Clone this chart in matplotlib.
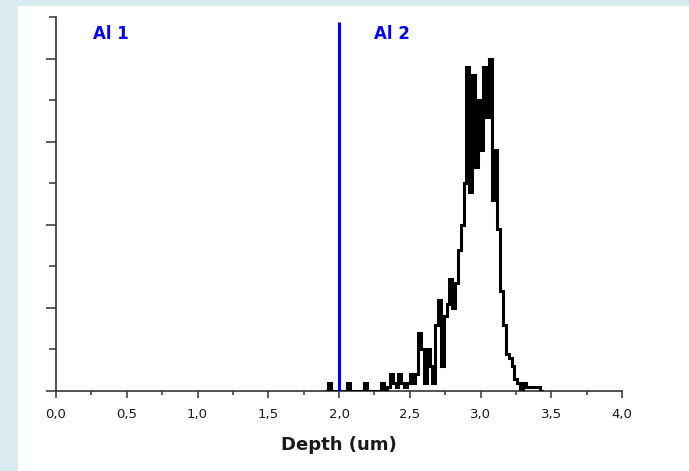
import numpy as np
import matplotlib
matplotlib.use("Agg")
import matplotlib.pyplot as plt
from matplotlib.patches import Rectangle
from matplotlib.ticker import MultipleLocator, FuncFormatter

# histogram of depth (bins of 0.02 um starting at 1.90 um)
bin_start = 1.90
bin_width = 0.02
counts = [0, 2, 0, 0, 0, 0, 0, 0, 2, 0,
          0, 0, 0, 0, 2, 0, 0, 0, 0, 0,
          2, 0, 1, 4, 2, 1, 4, 2, 1, 2,
          4, 2, 4, 14, 10, 2, 10, 6, 2, 16,
          22, 6, 18, 21, 27, 20, 26, 34, 40, 50,
          78, 48, 76, 54, 70, 58, 78, 66, 80, 46,
          58, 39, 24, 16, 9, 8, 6, 3, 2, 0,
          2, 1, 1, 1, 1, 1, 0]
edges = np.round(bin_start + bin_width * np.arange(len(counts) + 1), 2)

boundary = 2.0          # layer boundary (um)
layer_labels = ["Al 1", "Al 2"]
layer_label_x = [0.26, 2.25]
xticks = np.arange(0, 4.01, 0.5)

fig = plt.figure(figsize=(6.89, 4.71), dpi=100)
fig.patch.set_facecolor("#daebf2")
# white panel behind the axes
fig.patches.append(Rectangle((18 / 689, 0), 1, 1 - 6 / 471, transform=fig.transFigure,
                             facecolor="white", edgecolor="none", zorder=-10))

ax = fig.add_axes([56 / 689, 80 / 471, 566 / 689, 374 / 471])
ax.set_zorder(1)
ax.set_facecolor("white")

ax.stairs(counts, edges, color="black", lw=2.2, zorder=3)
ax.plot([boundary, boundary], [0, 0.987], color="#0000ff", lw=2.2,
        transform=ax.get_xaxis_transform(), zorder=4, solid_capstyle="butt")

for lab, lx in zip(layer_labels, layer_label_x):
    ax.text(lx, 0.955, lab, transform=ax.get_xaxis_transform(), color="#0000ff",
            fontsize=12, fontweight="bold", va="center", ha="left", family="DejaVu Sans")

ax.set_xlim(0, 4.0)
ax.set_ylim(0, 90)

for s in ["top", "right"]:
    ax.spines[s].set_visible(False)
for s in ["left", "bottom"]:
    ax.spines[s].set_color("#333333")
    ax.spines[s].set_linewidth(1.2)

ax.set_xticks(xticks)
ax.xaxis.set_minor_locator(MultipleLocator(0.25))
ax.xaxis.set_major_formatter(FuncFormatter(lambda v, p: ("%.1f" % v).replace(".", ",")))
ax.yaxis.set_major_locator(MultipleLocator(20))
ax.yaxis.set_minor_locator(MultipleLocator(10))
ax.set_yticklabels([])

ax.tick_params(axis="x", which="major", direction="out", length=5, width=1.1,
               color="#333333", labelsize=9.5, labelcolor="#1a1a1a", pad=7)
ax.tick_params(axis="x", which="minor", direction="out", length=3, width=1.1, color="#333333")
ax.tick_params(axis="y", which="major", direction="out", length=7, width=1.1, color="#333333")
ax.tick_params(axis="y", which="minor", direction="out", length=5, width=1.1, color="#333333")

ax.set_xlabel("Depth (um)", fontsize=13, fontweight="bold", color="#1a1a1a", labelpad=11)

fig.savefig("out.png", dpi=100, facecolor=fig.get_facecolor())
